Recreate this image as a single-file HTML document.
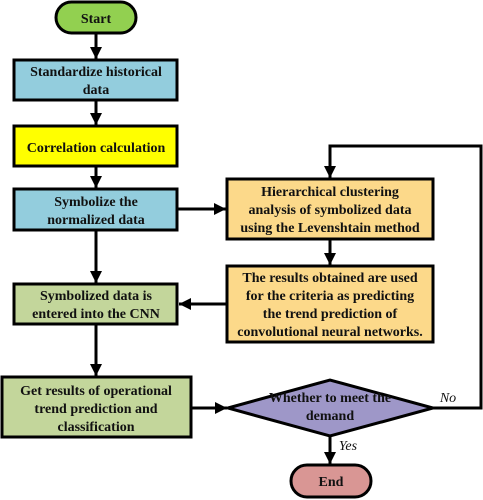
<!DOCTYPE html>
<html><head><style>html,body{margin:0;padding:0;background:#fff}svg{display:block}
text{font-family:"Liberation Serif",serif;font-weight:bold;font-size:14px;fill:#111;text-anchor:middle}
.i{font-style:italic;font-weight:normal;font-size:14px}</style></head><body>
<svg width="483" height="500" viewBox="0 0 483 500">
<defs><marker id="a" markerWidth="10" markerHeight="10" refX="9" refY="5" orient="auto" markerUnits="userSpaceOnUse" viewBox="0 0 10 10"><path d="M0,0 L10,5 L0,10 z" fill="#000"/></marker>
<marker id="b" markerWidth="12" markerHeight="12" refX="12" refY="6" orient="auto" markerUnits="userSpaceOnUse" viewBox="0 0 12 12"><path d="M0,0 L12,6 L0,12 z" fill="#000"/></marker></defs>
<g stroke="#000" stroke-width="3" fill="none">
<line x1="96" y1="33" x2="96" y2="59" marker-end="url(#b)"/>
<line x1="96" y1="100" x2="96" y2="125" marker-end="url(#b)"/>
<line x1="96" y1="166" x2="96" y2="188" marker-end="url(#b)"/>
<line x1="96" y1="230" x2="96" y2="283" marker-end="url(#b)"/>
<line x1="96" y1="325" x2="96" y2="376" marker-end="url(#b)"/>
<line x1="178" y1="209" x2="226" y2="209" marker-end="url(#b)"/>
<line x1="330" y1="240" x2="330" y2="265" marker-end="url(#b)"/>
<line x1="226" y1="304" x2="179" y2="304" marker-end="url(#b)"/>
<line x1="192" y1="408" x2="227" y2="408" marker-end="url(#b)"/>
<line x1="330" y1="436" x2="330" y2="464" marker-end="url(#b)"/>
<polyline points="433,408 481,408 481,146 330,146 330,178" marker-end="url(#b)"/>
</g>
<g stroke="#000" stroke-width="3">
<rect x="56" y="2" width="80" height="31" rx="15.5" fill="#92d050"/>
<rect x="14" y="60" width="163" height="40" fill="#93cddd"/>
<rect x="14" y="126" width="163" height="40" fill="#ffff00"/>
<rect x="14" y="189" width="163" height="41" fill="#93cddd"/>
<rect x="227" y="179" width="206" height="60" fill="#fcd98a"/>
<rect x="227" y="266" width="206" height="76" fill="#fcd98a"/>
<rect x="14" y="284" width="163" height="40" fill="#c3d69b"/>
<rect x="2" y="377" width="189" height="60" fill="#c3d69b"/>
<polygon points="228,408 330,380 433,408 330,436" fill="#9e97c8"/>
<rect x="291" y="465" width="80" height="32" rx="16" fill="#d99694"/>
</g>
<text x="96" y="23">Start</text>
<text x="96" y="76">Standardize historical</text><text x="96" y="94">data</text>
<text x="96" y="152">Correlation calculation</text>
<text x="96" y="206">Symbolize the</text><text x="96" y="224">normalized data</text>
<text x="330" y="196">Hierarchical clustering</text><text x="330" y="214">analysis of symbolized data</text><text x="330" y="232">using the Levenshtain method</text>
<text x="330" y="282">The results obtained are used</text><text x="330" y="300">for the criteria as predicting</text><text x="330" y="318">the trend prediction of</text><text x="330" y="336">convolutional neural networks.</text>
<text x="96" y="300">Symbolized data is</text><text x="96" y="318">entered into the CNN</text>
<text x="96" y="395">Get results of operational</text><text x="96" y="413">trend prediction and</text><text x="96" y="431">classification</text>
<text x="330" y="402">Whether to meet the</text><text x="330" y="420">demand</text>
<text x="331" y="486">End</text>
<text class="i" x="448" y="402">No</text>
<text class="i" x="348" y="450">Yes</text>
</svg></body></html>
